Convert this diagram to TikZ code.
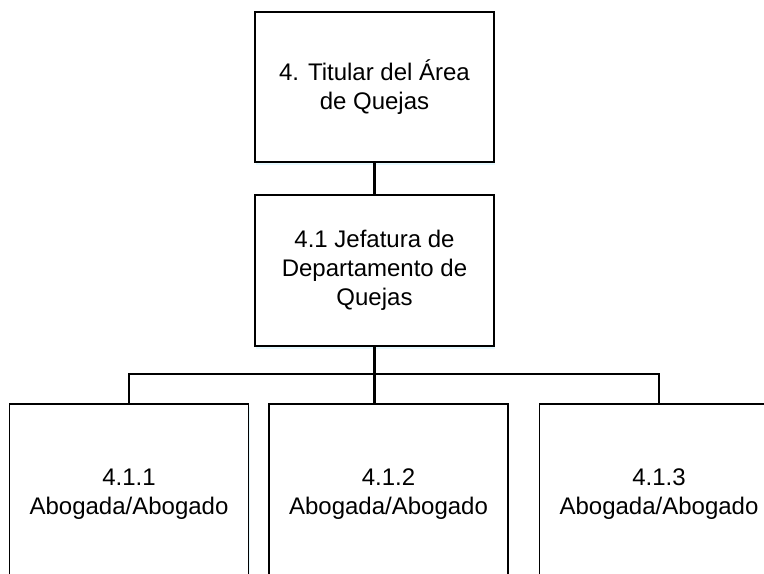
\documentclass[tikz,border=0pt]{standalone}
\usepackage{fontspec}
\setmainfont{Liberation Sans}
\usetikzlibrary{shadows}
\begin{document}
\begin{tikzpicture}[x=0.75pt,y=-0.75pt,
  orgbox/.style={draw=black, line width=1.4pt, fill=white, rectangle, align=center,
    minimum width=179.25pt, inner sep=0pt,
    font=\fontsize{18}{21.75}\selectfont,
    drop shadow={fill=blue!25!cyan!10!white, opacity=1, shadow xshift=1pt, shadow yshift=-2.5pt}},
  link/.style={draw=black, line width=1.9pt}]
\useasboundingbox (0,0) rectangle (764,574);
\clip (0,0) rectangle (764,574);
\fill[white] (0,0) rectangle (764,574);
\node[orgbox, minimum height=112.5pt] (top) at (374.5,87) {4. Titular del Área\\de Quejas};
\node[orgbox, minimum height=113.25pt] (mid) at (374.5,270.5) {4.1 Jefatura de\\Departamento de\\Quejas};
\node[orgbox, minimum height=135.75pt] (b1) at (129,494.5) {4.1.1\\Abogada/Abogado};
\node[orgbox, minimum height=135.75pt] (b2) at (388.5,494.5) {4.1.2\\Abogada/Abogado};
\node[orgbox, minimum height=135.75pt] (b3) at (659,494.5) {4.1.3\\Abogada/Abogado};
\coordinate (bus) at (374.5,374);
\draw[link] (top.south) -- (mid.north);
\draw[link] (mid.south) -- (mid.south |- b2.north);
\draw[link] (b1.north) |- (bus) -| (b3.north);
\end{tikzpicture}
\end{document}
